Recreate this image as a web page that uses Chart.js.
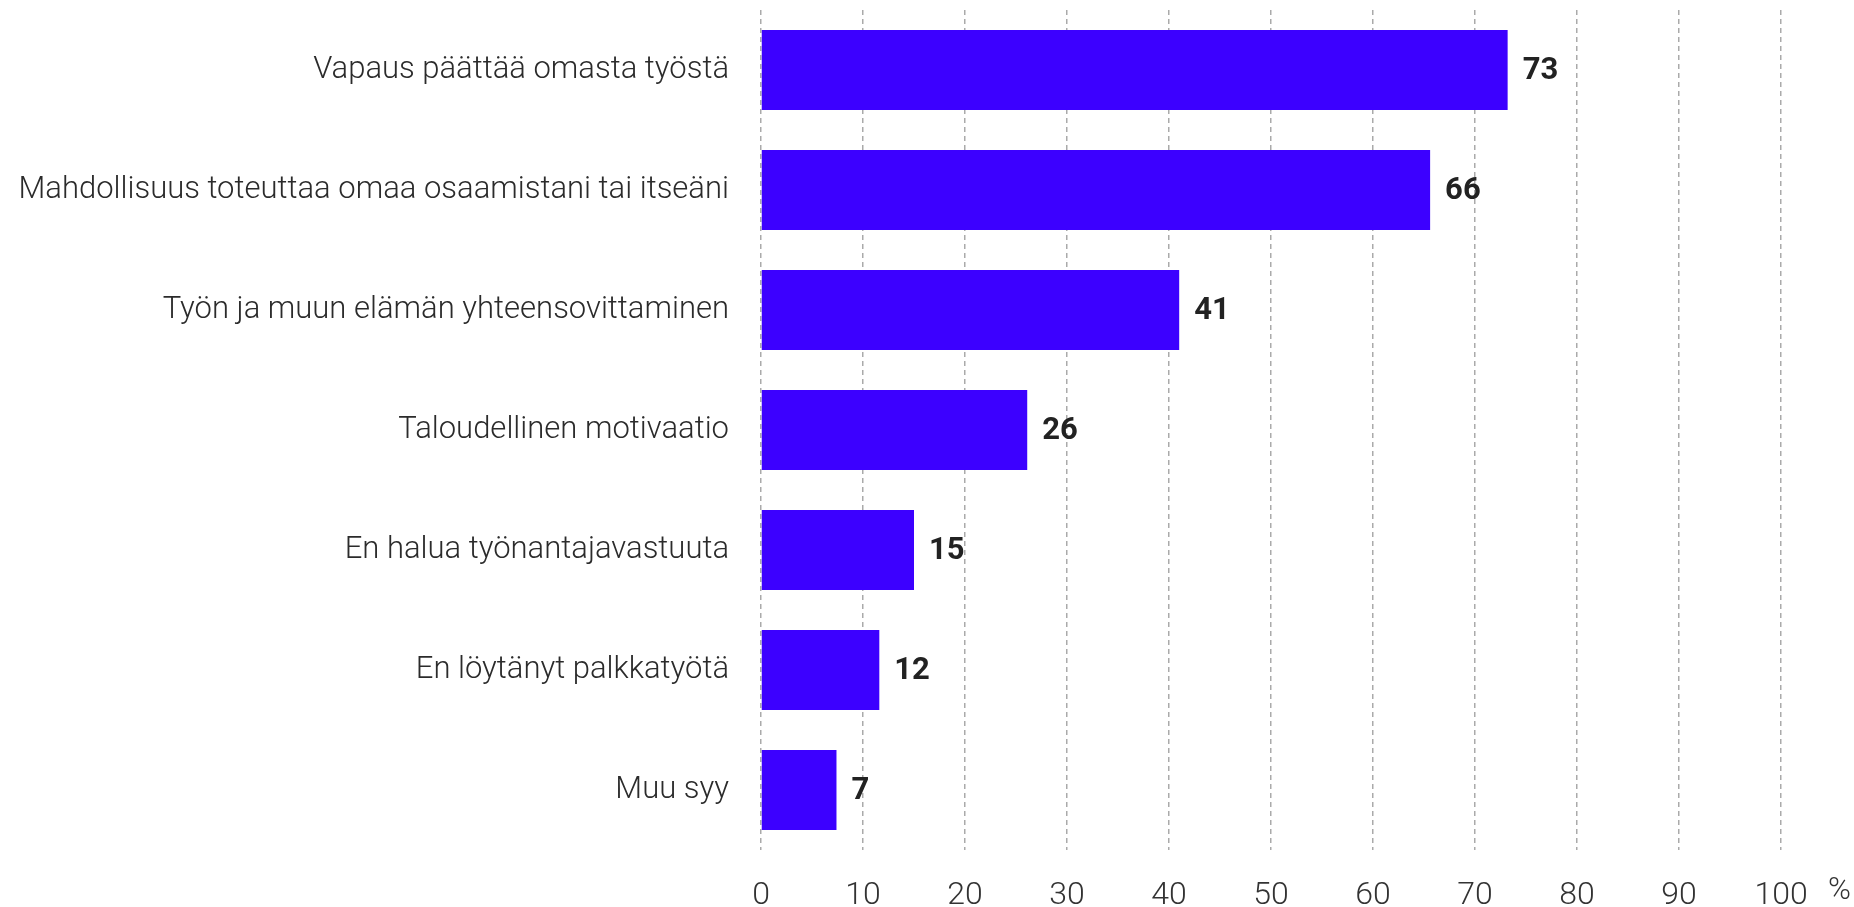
<!DOCTYPE html>
<html>
<head>
<meta charset="utf-8">
<script src="https://cdn.jsdelivr.net/npm/chart.js@4.4.1/dist/chart.umd.min.js"></script>
<style>
  html, body { margin: 0; padding: 0; background: #fff; }
  #wrap { width: 1854px; height: 907px; position: relative; }
</style>
</head>
<body>
<div id="wrap"><canvas id="chart"></canvas></div>
<script>
const categories = [
    'Vapaus päättää omasta työstä',
    'Mahdollisuus toteuttaa omaa osaamistani tai itseäni',
    'Työn ja muun elämän yhteensovittaminen',
    'Taloudellinen motivaatio',
    'En halua työnantajavastuuta',
    'En löytänyt palkkatyötä',
    'Muu syy'
];
const shares = [73.2, 65.6, 41, 26.1, 15, 11.6, 7.4];
const shareLabels = ['73', '66', '41', '26', '15', '12', '7'];
const xTicks = [0, 10, 20, 30, 40, 50, 60, 70, 80, 90, 100];

const FONT = 'Roboto, "Noto Sans", sans-serif';

// value labels at the end of each bar, plus the % unit after the axis
const valueLabels = {
    id: 'valueLabels',
    afterDatasetsDraw(chart) {
        const ctx = chart.ctx;
        const meta = chart.getDatasetMeta(0);
        ctx.save();
        ctx.fillStyle = '#222';
        ctx.font = 'bold 31px ' + FONT;
        ctx.textAlign = 'left';
        ctx.textBaseline = 'middle';
        meta.data.forEach((bar, i) => {
            ctx.fillText(shareLabels[i], bar.x + 15, bar.y + 1);
        });
        const xs = chart.scales.x;
        ctx.font = '300 31px ' + FONT;
        ctx.fillStyle = '#333';
        ctx.fillText('%', xs.getPixelForValue(100) + 47, xs.top + 41);
        ctx.restore();
    }
};

new Chart(document.getElementById('chart'), {
    type: 'bar',
    data: {
        labels: categories,
        datasets: [{
            data: shares,
            backgroundColor: '#3c00ff',
            borderWidth: 0,
            barPercentage: 0.667,
            categoryPercentage: 1
        }]
    },
    options: {
        indexAxis: 'y',
        responsive: true,
        maintainAspectRatio: false,
        animation: false,
        layout: { padding: { top: 10, right: 73, left: 0, bottom: 0 } },
        plugins: {
            legend: { display: false },
            tooltip: { enabled: false }
        },
        scales: {
            x: {
                min: 0,
                max: 100,
                afterBuildTicks: scale => { scale.ticks = xTicks.map(v => ({ value: v })); },
                afterFit: scale => { scale.height = 57; },
                grid: {
                    color: '#aaaaaa',
                    lineWidth: 1.5,
                    drawTicks: false
                },
                border: { display: false, dash: [5, 4] },
                ticks: {
                    padding: 27,
                    color: '#333',
                    font: { family: FONT, size: 32, weight: '300' },
                    maxRotation: 0
                }
            },
            y: {
                afterFit: scale => {
                    scale.width = 761;
                    scale.paddingTop = 0;
                    scale.paddingBottom = 0;
                },
                border: { display: false },
                grid: { display: false, drawTicks: false },
                ticks: {
                    padding: 32,
                    color: '#2b2b2b',
                    font: { family: FONT, size: 31, weight: '300' }
                }
            }
        }
    },
    plugins: [valueLabels]
});
</script>
</body>
</html>
